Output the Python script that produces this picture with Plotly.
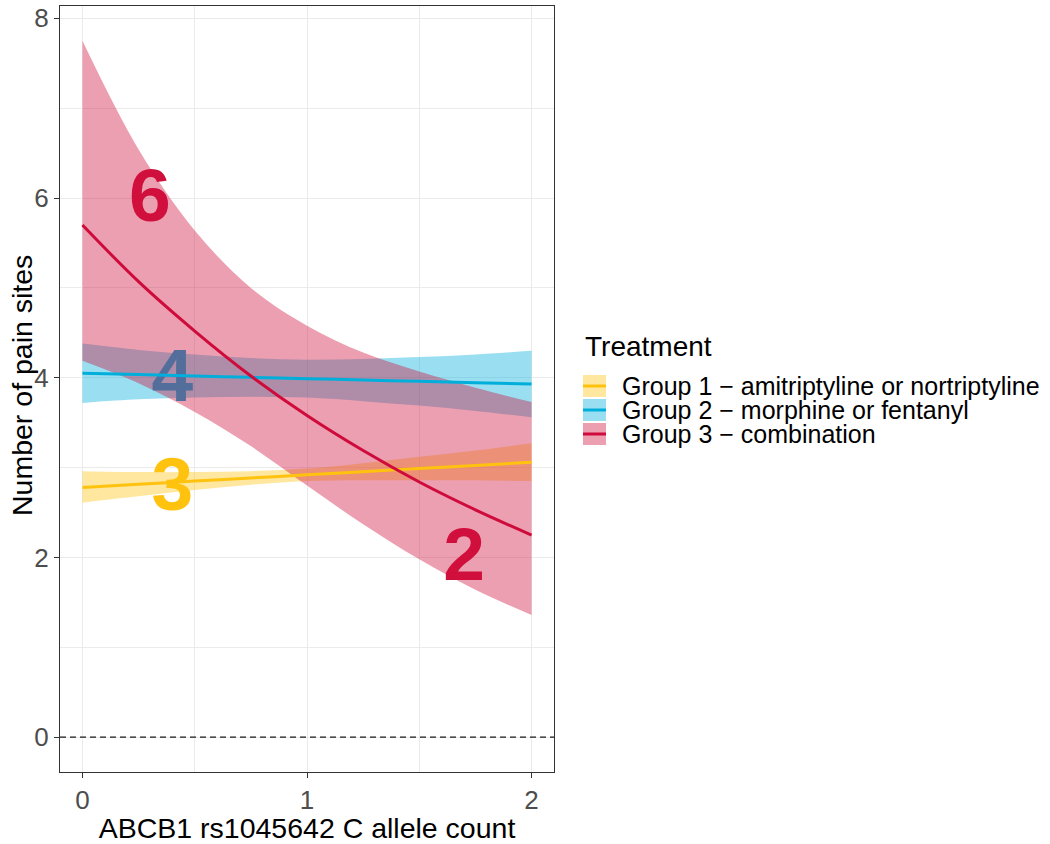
import plotly.graph_objects as go

# allele count grid and fitted values (with 95% band) per treatment group
allele = [0, 0.25, 0.5, 0.75, 1, 1.25, 1.5, 1.75, 2]

g1_fit = [2.78, 2.815, 2.85, 2.885, 2.92, 2.955, 2.99, 3.025, 3.06]
g1_lo = [2.61, 2.68, 2.75, 2.81, 2.85, 2.86, 2.86, 2.86, 2.85]
g1_hi = [2.96, 2.95, 2.95, 2.96, 2.99, 3.05, 3.12, 3.19, 3.27]

g2_fit = [4.05, 4.035, 4.02, 4.005, 3.99, 3.975, 3.96, 3.945, 3.93]
g2_lo = [3.72, 3.76, 3.78, 3.79, 3.78, 3.74, 3.69, 3.63, 3.56]
g2_hi = [4.38, 4.31, 4.26, 4.22, 4.20, 4.21, 4.23, 4.26, 4.30]

g3_fit = [5.70, 5.07, 4.52, 4.02, 3.58, 3.19, 2.84, 2.53, 2.25]
g3_lo = [4.19, 3.94, 3.62, 3.24, 2.80, 2.37, 1.98, 1.64, 1.36]
g3_hi = [7.75, 6.54, 5.64, 5.00, 4.58, 4.28, 4.07, 3.89, 3.73]

groups = [
    "Group 1 \u2212 amitriptyline or nortriptyline",
    "Group 2 \u2212 morphine or fentanyl",
    "Group 3 \u2212 combination",
]
line_colors = ["#FFC20E", "#00AEDB", "#CE0B3B"]
fill_colors = ["rgba(255,194,14,0.4)", "rgba(0,174,219,0.4)", "rgba(208,16,60,0.4)"]

# big number labels drawn under the ribbons
label_text = ["6", "4", "3", "2"]
label_x = [0.3, 0.4, 0.4, 1.7]
label_y = [5.95, 3.95, 2.74, 1.96]
label_colors = ["#D0103C", "#00AEDB", "#FFC20E", "#D0103C"]

fits = [g1_fit, g2_fit, g3_fit]
los = [g1_lo, g2_lo, g3_lo]
his = [g1_hi, g2_hi, g3_hi]

W, H = 1050, 844
L, R, T, B = 60, 554, 6, 772  # panel in pixels
FONT = "Liberation Sans, Arial"


def px_x(p):
    return (p - L) / (R - L)


def px_y(p):
    return (B - p) / (B - T)


fig = go.Figure()

fig.add_trace(
    go.Scatter(
        x=label_x,
        y=label_y,
        mode="text",
        text=label_text,
        textposition="middle center",
        textfont=dict(family=FONT, size=75, color=label_colors, weight="bold"),
        showlegend=False,
        hoverinfo="skip",
    )
)

for i in range(3):
    fig.add_trace(
        go.Scatter(
            x=allele, y=los[i], mode="lines", line=dict(width=0, shape="spline"),
            showlegend=False, hoverinfo="skip",
        )
    )
    fig.add_trace(
        go.Scatter(
            x=allele, y=his[i], mode="lines", line=dict(width=0, shape="spline"),
            fill="tonexty", fillcolor=fill_colors[i], showlegend=False, hoverinfo="skip",
        )
    )

for i in range(3):
    fig.add_trace(
        go.Scatter(
            x=allele, y=fits[i], mode="lines", name=groups[i],
            line=dict(color=line_colors[i], width=3, shape="spline"),
            showlegend=False,
        )
    )

# dashed reference line at zero
fig.add_shape(
    type="line", xref="paper", yref="y", x0=0, x1=1, y0=0, y1=0,
    line=dict(color="#1A1A1A", width=1.2, dash="6px,4px"),
)

# y axis title placed by hand
fig.add_annotation(
    x=px_x(22), y=px_y(386), xref="paper", yref="paper", text="Number of pain sites",
    showarrow=False, textangle=-90, xanchor="center", yanchor="middle",
    font=dict(family=FONT, size=28.5, color="#000000"),
)

# hand-made legend (ggplot style keys: ribbon box with line through it)
fig.add_annotation(
    x=px_x(583), y=px_y(347), xref="paper", yref="paper", text="Treatment",
    showarrow=False, xanchor="left", yanchor="middle",
    font=dict(family=FONT, size=28, color="#000000"),
)
for i in range(3):
    cy = 386 + 24 * i
    fig.add_shape(
        type="rect", xref="paper", yref="paper",
        x0=px_x(583), x1=px_x(606), y0=px_y(cy - 11), y1=px_y(cy + 11),
        fillcolor=fill_colors[i], line=dict(width=0),
    )
    fig.add_shape(
        type="line", xref="paper", yref="paper",
        x0=px_x(583), x1=px_x(606), y0=px_y(cy), y1=px_y(cy),
        line=dict(color=line_colors[i], width=3),
    )
    fig.add_annotation(
        x=px_x(620), y=px_y(cy), xref="paper", yref="paper", text=groups[i],
        showarrow=False, xanchor="left", yanchor="middle",
        font=dict(family=FONT, size=25, color="#000000"),
    )

axis_common = dict(
    showline=True, linecolor="#333333", linewidth=1, mirror=True,
    ticks="outside", ticklen=5, tickcolor="#333333", tickwidth=1,
    tickfont=dict(family=FONT, size=26, color="#4D4D4D"),
    gridcolor="#EBEBEB", gridwidth=1.2, zeroline=False,
)

fig.update_xaxes(
    range=[-0.1, 2.1], tickvals=[0, 1, 2],
    minor=dict(tickvals=[0.5, 1.5], showgrid=True, gridcolor="#EBEBEB", gridwidth=0.8, ticks=""),
    title=dict(text="ABCB1 rs1045642 C allele count", standoff=2,
               font=dict(family=FONT, size=28.5, color="#000000")),
    **axis_common,
)
fig.update_yaxes(
    range=[-0.3875, 8.1375], tickvals=[0, 2, 4, 6, 8],
    minor=dict(tickvals=[1, 3, 5, 7], showgrid=True, gridcolor="#EBEBEB", gridwidth=0.8, ticks=""),
    **axis_common,
)

fig.update_layout(
    width=W, height=H,
    margin=dict(l=L, r=W - R, t=T, b=H - B, autoexpand=False),
    plot_bgcolor="white", paper_bgcolor="white",
    showlegend=False,
)

fig.write_html(
    "out.html",
    config={"displayModeBar": False},
    post_script="document.body.style.margin='0px';",
)
